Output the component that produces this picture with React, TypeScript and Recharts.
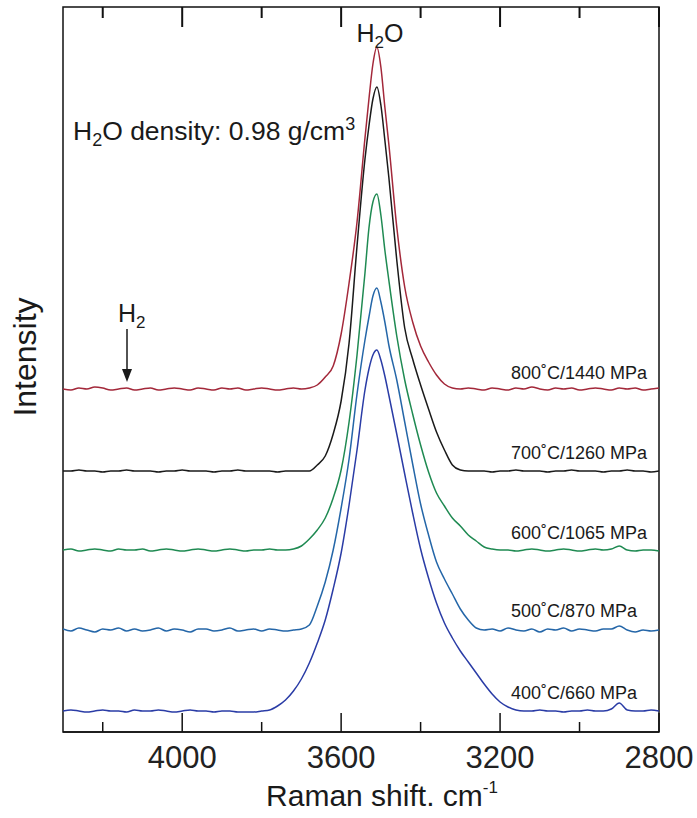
import { LineChart, Line, XAxis, YAxis, ReferenceArea } from 'recharts';

// Raman spectra of H2O at high P/T, offset vertically (intensity in px-like units)
const wavenumbers = [
  4300, 4280, 4260, 4240, 4220, 4200, 4180, 4160, 4140, 4120,
  4100, 4080, 4060, 4040, 4020, 4000, 3980, 3960, 3940, 3920,
  3900, 3880, 3860, 3840, 3820, 3800, 3780, 3760, 3740, 3720,
  3700, 3680, 3660, 3640, 3620, 3600, 3580, 3560, 3540, 3530,
  3520, 3510, 3500, 3490, 3480, 3460, 3440, 3420, 3400, 3380,
  3360, 3340, 3320, 3300, 3280, 3260, 3240, 3220, 3200, 3180,
  3160, 3140, 3120, 3100, 3080, 3060, 3040, 3020, 3000, 2980,
  2960, 2940, 2920, 2900, 2880, 2860, 2840, 2820, 2800,
];

const h800 = [
  0, -1, 1, 0, 2, 1, -1, 0, 1, -1, 0, 1, -1, 0, 1, 0, -1, 1, 0, -1, 1, 0, 1, -1, 0, 1, 0, -1, 0, 1,
  0, 1, 4, 12, 23, 55, 106, 167, 251, 290, 325, 342, 322, 282, 245, 162, 102, 67, 43, 27, 14, 5, 1, 0,
  1, 0, -1, 1, 0, -1, 1, 0, 2, 0, -1, 1, 0, 1, -1, 0, 1, 0, -1, 1, 0, 1, -1, 0, 1,
];
const h700 = [
  0, 0, 1, 0, 0, -1, 0, 0, 1, 0, 0, 0, -1, 0, 0, 1, 0, 0, 0, -1, 0, 0, 1, 0, 0, 0, 0, -1, 0, 0, 0,
  0, 6, 15, 37, 70, 128, 225, 312, 345, 372, 384, 366, 331, 294, 211, 143, 112, 86, 62, 39, 21, 6, 1, 0,
  0, 0, -1, 0, 0, 1, 0, 0, 0, -1, 0, 0, 1, 0, 0, 0, -1, 0, 0, 1, 0, 0, -1, 0,
];
const h600 = [
  0, 1, -1, 0, 1, 0, -1, 1, 0, 0, 1, -1, 0, 1, 0, -1, 0, 1, 0, -1, 0, 1, 0, -1, 0, 0, 1, 0, 0, 1,
  4, 11, 20, 32, 52, 80, 128, 195, 277, 322, 348, 356, 335, 300, 270, 214, 170, 136, 105, 78, 57, 44, 32, 24, 15, 9, 3, 1, 0,
  0, -1, 0, 1, 0, -1, 0, 1, 0, -1, 0, 1, 0, 1, 4, 0, -1, 0, 0, -1,
];
const h500 = [
  1, -1, 2, 0, -2, 1, 0, 2, -1, 1, -1, 0, 2, -1, 1, 0, -2, 1, 1, -1, 0, 2, -1, 0, 1, -1, 1, 0, -1, 0,
  1, 5, 24, 48, 80, 122, 171, 236, 290, 313, 334, 342, 328, 308, 285, 250, 208, 166, 126, 95, 68, 51, 36, 21, 10, 2, 0,
  1, -1, 2, 0, -1, 1, -2, 1, 0, 2, -1, 1, 0, -1, 1, 1, 4, 0, -2, 0, -1, 0,
];
const h400 = [
  0, 1, 0, -1, 0, 1, 0, 0, -1, 1, 0, 0, 1, 0, -1, 0, 1, 0, 0, -1, 0, 0, -1, -1, -1, 0,
  1, 5, 11, 20, 32, 48, 68, 91, 122, 158, 206, 261, 321, 342, 356, 361, 351, 335, 316, 277, 237, 198, 162, 133, 108, 88, 73, 60, 49, 38, 27, 17, 9, 4, 1,
  0, 0, 1, 0, 0, -1, 0, 0, 1, 0, 0, 2, 8, 1, 0, 0, 1, 0,
];

const seriesKeys = ['s800', 's700', 's600', 's500', 's400'];
const seriesLabels = ['800˚C/1440 MPa', '700˚C/1260 MPa', '600˚C/1065 MPa', '500˚C/870 MPa', '400˚C/660 MPa'];
const seriesOffsets = [343, 261, 182, 102, 21];
const seriesColors = ['#a3283a', '#1a1a1a', '#1f8a52', '#2466a8', '#2a3ca6'];
const seriesValues = [h800, h700, h600, h500, h400];

const xTicks = [4200, 4000, 3800, 3600, 3400, 3200, 3000, 2800];
const majorTicks = [4000, 3600, 3200, 2800];
const xDomain = [2800, 4300];
const yTop = 725;

const W = 697;
const H = 818;
const M = { top: 7, right: 38, left: 63, bottom: 26 };
const plotW = W - M.left - M.right;

const data = wavenumbers.map((w, i) => {
  const row: any = { w };
  seriesKeys.forEach((k, j) => {
    row[k] = seriesOffsets[j] + seriesValues[j][i];
  });
  return row;
});

const FONT = '"Liberation Sans", Arial, Helvetica, sans-serif';

const BottomTick = (props: any) => {
  const { x, y, payload } = props;
  const major = majorTicks.includes(payload.value);
  return (
    <g>
      <line x1={x} x2={x} y1={y} y2={y - (major ? 19 : 10)} stroke="#111" strokeWidth={1.5} />
      {major && (
        <text x={x} y={y + 36} textAnchor="middle" fontSize={31} fontFamily={FONT} fill="#222">
          {payload.value}
        </text>
      )}
    </g>
  );
};

// mirror ticks on the top frame (same reversed scale as the x axis)
const topTickX = (t: number) => M.left + ((xDomain[1] - t) / (xDomain[1] - xDomain[0])) * plotW;

export default function App() {
  return (
    <div style={{ position: 'absolute', left: 0, top: 0, width: W, height: H, background: '#fff' }}>
      <LineChart width={W} height={H} data={data} margin={M}>
        <XAxis
          dataKey="w"
          type="number"
          domain={xDomain}
          reversed
          allowDataOverflow
          ticks={xTicks}
          tick={<BottomTick />}
          tickLine={false}
          tickSize={0}
          tickMargin={0}
          height={60}
          axisLine={{ stroke: '#111', strokeWidth: 1.5 }}
        />
        <YAxis type="number" domain={[0, yTop]} allowDataOverflow hide />
        <ReferenceArea
          x1={4300}
          x2={2800}
          y1={0}
          y2={yTop}
          fill="none"
          fillOpacity={0}
          stroke="#111"
          strokeWidth={1.5}
          ifOverflow="visible"
        />
        {seriesKeys.map((k, j) => (
          <Line
            key={k}
            dataKey={k}
            type="monotone"
            stroke={seriesColors[j]}
            strokeWidth={1.5}
            dot={false}
            isAnimationActive={false}
          />
        ))}
      </LineChart>
      <svg
        width={W}
        height={H}
        style={{ position: 'absolute', left: 0, top: 0, pointerEvents: 'none' }}
        fontFamily={FONT}
        fill="#1a1a1a"
      >
        {xTicks.map((t) => (
          <rect
            key={t}
            x={topTickX(t) - 1}
            y={M.top}
            width={2}
            height={majorTicks.includes(t) ? 20 : 11}
            fill="#111"
          />
        ))}
        <text x={380} y={42} textAnchor="middle" fontSize={25}>
          H<tspan fontSize={17} dy={6}>2</tspan><tspan dy={-6}>O</tspan>
        </text>
        <text x={73} y={140} fontSize={26.5}>
          H<tspan fontSize={18} dy={6}>2</tspan><tspan dy={-6}>O density: 0.98 g/cm</tspan>
          <tspan fontSize={18} dy={-10}>3</tspan>
        </text>
        <text x={118} y={322} fontSize={25}>
          H<tspan fontSize={17} dy={6}>2</tspan>
        </text>
        <line x1={127} x2={127} y1={329} y2={372} stroke="#1a1a1a" strokeWidth={1.5} />
        <polygon points="122,369 132,369 127,382" fill="#1a1a1a" />
        {seriesLabels.map((s, j) => (
          <text key={s} x={511} y={[379, 459, 539, 617, 699][j]} fontSize={18}>
            {s}
          </text>
        ))}
        <text transform="translate(36,357) rotate(-90)" textAnchor="middle" fontSize={32}>
          Intensity
        </text>
        <text x={382} y={806} textAnchor="middle" fontSize={30}>
          Raman shift. cm<tspan fontSize={17} dy={-13}>-1</tspan>
        </text>
      </svg>
    </div>
  );
}
